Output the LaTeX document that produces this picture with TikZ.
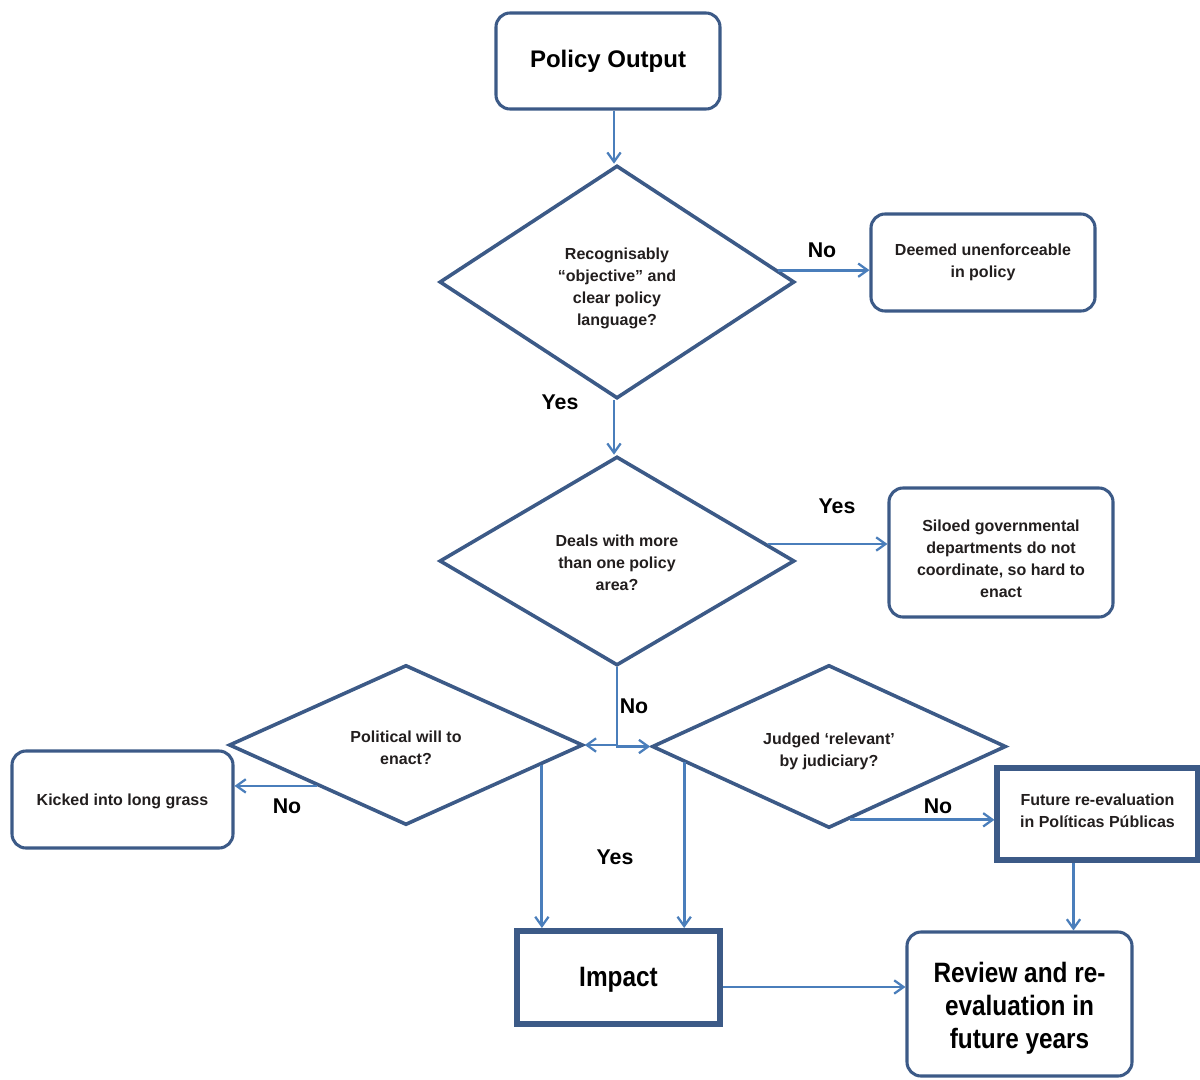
\documentclass[tikz,border=0pt]{standalone}
\usepackage{fontspec}
\setmainfont{Liberation Sans}
\newfontfamily\narrowsans{Liberation Sans}[FakeStretch=0.87]
\usetikzlibrary{arrows.meta,shapes.geometric,calc}
\definecolor{boxc}{RGB}{60,90,135}
\definecolor{arrc}{RGB}{74,126,187}
\definecolor{txtc}{RGB}{34,30,30}
\newlength\pu
\setlength\pu{0.75pt}
% a tall strut at the start of the first line pushes a centred text block down
\newcommand\lowerfirst[1]{\rule{0pt}{\dimexpr 8.8pt + #1\pu\relax}}
\newcommand\lowerbig[1]{\rule{0pt}{\dimexpr 15.5pt + #1\pu\relax}}
\tikzset{
  smalltxt/.style={font=\bfseries\fontsize{12}{16.5}\selectfont, text=txtc, align=center},
  roundbox/.style={draw=boxc, line width=2.3pt, rounded corners=14\pu, inner sep=0pt, smalltxt},
  squarebox/.style={draw=boxc, line width=4pt, inner sep=0pt},
  decision/.style={draw=boxc, line width=2.7pt, diamond, aspect=2, inner sep=0pt, smalltxt},
  arr/.style={draw=arrc, line width=2.1pt, -{Straight Barb[length=7pt,width=10pt,line width=1.7pt]}},
  lbl/.style={font=\bfseries\fontsize{16}{18}\selectfont, text=black, inner sep=0pt},
  bigtxt/.style={font=\narrowsans\bfseries\fontsize{21}{24.75}\selectfont, text=black, align=center}
}
\begin{document}
\begin{tikzpicture}[x=0.75pt,y=-0.75pt]
\useasboundingbox (0,0) rectangle (1200,1079);

% boxes
\node[roundbox, minimum width=224\pu, minimum height=96\pu,
      font=\bfseries\fontsize{18}{21}\selectfont, text=black] (out) at (608,61) {Policy Output};
\node[roundbox, minimum width=224\pu, minimum height=97\pu] (deem) at (983,262.5)
  {Deemed unenforceable\\in policy};
\node[roundbox, minimum width=224\pu, minimum height=129\pu] (silo) at (1001,552.5)
  {\lowerfirst{12}Siloed governmental\\departments do not\\coordinate, so hard to\\enact};
\node[roundbox, minimum width=221\pu, minimum height=97\pu] (kick) at (122.5,799.5)
  {\lowerfirst{3}Kicked into long grass};
\node[squarebox, line width=3.8pt, minimum width=201\pu, minimum height=92\pu, smalltxt] (fut) at (1097.5,814)
  {Future re-evaluation\\in Políticas Públicas\rule[-4.5pt]{0pt}{4.5pt}};
\node[squarebox, line width=4.5pt, minimum width=203\pu, minimum height=93\pu, bigtxt] (imp) at (618.5,977.5)
  {\lowerbig{3}Impact};
\node[roundbox, minimum width=225\pu, minimum height=144\pu, bigtxt] (rev) at (1019.5,1004)
  {\lowerbig{8}Review and re-\\evaluation in\\future years};

% decisions
\node[decision, minimum width=355\pu, minimum height=233\pu] (d1) at (617,282)
  {\lowerfirst{13}Recognisably\\“objective” and\\clear policy\\language?};
\node[decision, minimum width=355\pu, minimum height=209\pu] (d2) at (617,561)
  {\lowerfirst{4}Deals with more\\than one policy\\area?};
\node[decision, minimum width=354\pu, minimum height=160\pu] (pol) at (406,745)
  {\lowerfirst{6}Political will to\\enact?};
\node[decision, minimum width=354\pu, minimum height=163\pu] (jud) at (829,746.5)
  {\lowerfirst{9}Judged ‘relevant’\\by judiciary?};

% connectors
\draw[arr] ([xshift=-3\pu]d1.north |- out.south) coordinate (a0) -- (a0 |- d1.north);
\draw[arr] ($(d1.east)!0.1!(d1.north)$) coordinate (a1) -- (a1 -| deem.west);
\draw[arr] ([xshift=-3\pu]d1.south) coordinate (b1) -- (b1 |- d2.north);
\draw[arr] ($(d2.east)!0.16!(d2.north)$) coordinate (a2) -- (a2 -| silo.west);
\draw[arr] (d2.south) |- (pol.east);
\draw[arr] (d2.south) |- (jud.west);
\draw[arr] ($(pol.west)!0.5!(pol.south)$) coordinate (a3) -- (a3 -| kick.east);
\draw[arr] ($(pol.east)!0.24!(pol.south)$) coordinate (a4) -- (a4 |- imp.north);
\draw[arr] ($(jud.west)!0.19!(jud.south)$) coordinate (a5) -- (a5 |- imp.north);
\draw[arr] ($(jud.south)!0.12!(jud.east)$) coordinate (a6) -- (a6 -| fut.west);
\draw[arr] ([xshift=-24\pu]fut.south) coordinate (a7) -- (a7 |- rev.north);
\draw[arr] ([yshift=-9.5\pu]imp.east) coordinate (a8) -- (a8 -| rev.west);

% branch labels
\node[lbl] (l1) at (822,250) {No};
\node[lbl] (l2) at (560,402) {Yes};
\node[lbl] (l3) at (837,506) {Yes};
\node[lbl] (l4) at (634,706) {No};
\node[lbl] (l5) at (287,806) {No};
\node[lbl] (l6) at (615,857) {Yes};
\node[lbl] (l7) at (938,806) {No};
\end{tikzpicture}
\end{document}
